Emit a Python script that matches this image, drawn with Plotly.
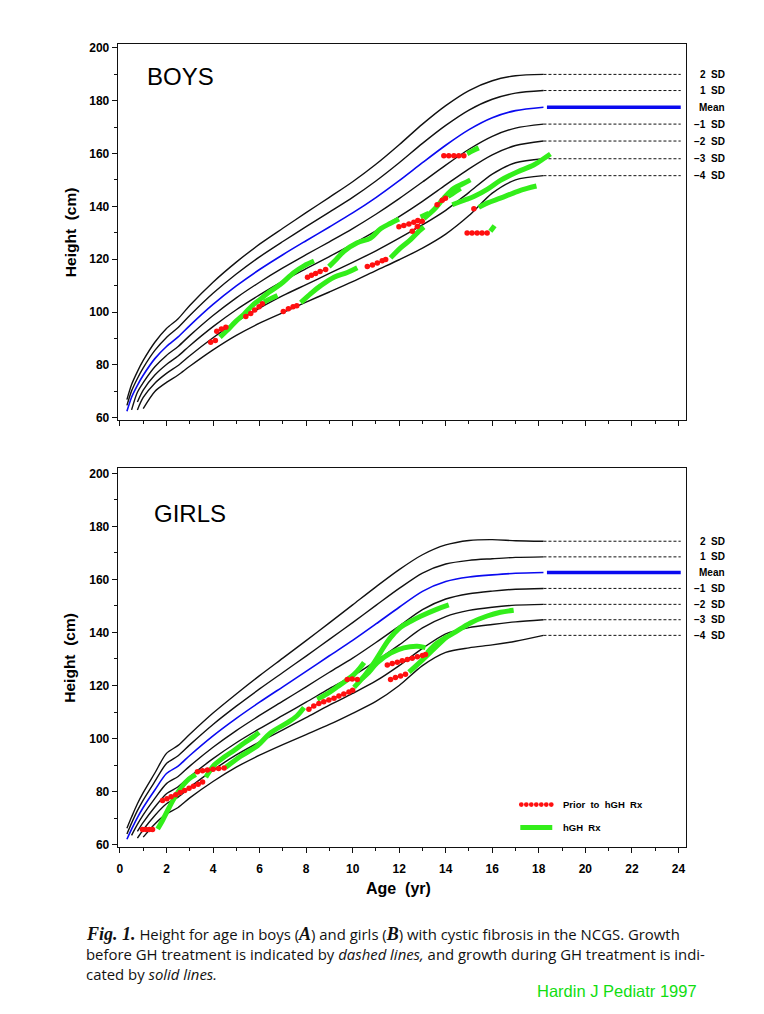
import plotly.graph_objects as go

# page body has an 8px margin: figure is sized to fit inside it
OFF = 8
W, H = 764 - 2 * OFF, 1014 - 2 * OFF

# ---------------- reference curves ----------------
AGES = [0.3, 0.5, 0.75, 1, 1.5, 2, 2.5, 3, 4, 5, 6, 7, 8, 9, 10, 11, 12, 13, 14, 15, 16, 17, 18.2]
CURVE_NAMES = ["2 SD", "1 SD", "Mean", "-1 SD", "-2 SD", "-3 SD", "-4 SD"]

BOYS_2SD = [66.9, 72.6, 77.5, 81.7, 88.6, 93.8, 97.5, 102.5, 111.3, 118.9, 125.7, 131.7, 137.6, 143.4, 149.3, 155.9, 163.3, 171.1, 178.1, 183.8, 187.5, 189.4, 189.9]
BOYS_1SD = [64.7, 70.2, 74.9, 78.9, 85.5, 90.4, 94.2, 98.7, 107.1, 114.4, 120.9, 126.7, 132.3, 137.8, 143.4, 149.6, 156.5, 163.8, 170.6, 176.4, 180.5, 182.8, 183.8]
BOYS_MEAN = [62.5, 67.8, 72.3, 76.1, 82.4, 87.0, 90.6, 94.9, 102.9, 109.9, 116.1, 121.7, 127.0, 132.2, 137.5, 143.3, 149.7, 156.5, 163.1, 169.0, 173.5, 176.2, 177.5]
BOYS_M1SD = [None, 63.0, 69.7, 73.3, 79.3, 83.6, 87.0, 91.1, 98.7, 105.4, 111.3, 116.7, 121.7, 126.6, 131.6, 137.0, 142.9, 149.2, 155.6, 161.6, 166.5, 169.6, 171.1]
BOYS_M2SD = [None, None, 66.0, 70.5, 76.2, 80.2, 83.4, 87.3, 94.5, 100.9, 106.5, 111.7, 116.4, 121.0, 125.7, 130.7, 136.1, 141.9, 148.1, 154.2, 159.5, 163.0, 164.7]
BOYS_M3SD = [None, None, 63.0, 67.7, 73.1, 76.8, 79.8, 83.5, 90.3, 96.4, 101.5, 106.2, 110.4, 114.6, 118.8, 123.2, 128.0, 133.0, 138.5, 145.3, 152.2, 156.5, 158.0]
BOYS_M4SD = [None, None, None, 63.5, 70.0, 73.4, 76.2, 79.5, 85.7, 91.2, 95.8, 99.8, 103.8, 107.6, 111.5, 115.7, 119.8, 124.2, 129.5, 136.5, 145.0, 150.0, 151.6]

GIRLS_2SD = [66.2, 70.4, 75.4, 79.6, 87.0, 94.4, 97.4, 101.6, 109.6, 116.8, 123.7, 130.3, 136.9, 143.6, 150.4, 157.2, 163.7, 169.3, 173.0, 174.7, 175.0, 174.6, 174.4]
GIRLS_1SD = [64.0, 68.1, 72.8, 76.8, 83.8, 90.6, 93.5, 97.6, 105.3, 112.2, 118.7, 124.9, 131.1, 137.4, 143.7, 150.2, 156.6, 162.4, 165.8, 167.2, 167.8, 168.3, 168.5]
GIRLS_MEAN = [62.0, 65.8, 70.2, 74.0, 80.6, 86.8, 89.6, 93.6, 101.0, 107.6, 113.7, 119.5, 125.3, 131.2, 137.0, 143.2, 149.5, 155.5, 159.2, 160.9, 161.7, 162.3, 162.6]
GIRLS_M1SD = [None, 63.5, 67.6, 71.2, 77.4, 83.0, 85.7, 89.6, 96.7, 103.0, 108.7, 114.1, 119.5, 125.0, 130.3, 136.2, 142.4, 148.6, 152.6, 154.6, 155.6, 156.3, 156.6]
GIRLS_M2SD = [None, None, 65.0, 68.4, 74.2, 79.2, 81.8, 85.6, 92.4, 98.4, 103.7, 108.7, 113.7, 118.8, 123.6, 129.2, 135.3, 141.7, 146.0, 148.3, 149.5, 150.3, 150.6]
GIRLS_M3SD = [None, None, 62.4, 65.6, 71.0, 75.4, 77.9, 81.6, 88.1, 93.8, 98.7, 103.3, 107.9, 112.6, 117.0, 121.7, 127.5, 134.0, 139.5, 141.8, 143.0, 144.0, 144.8]
GIRLS_M4SD = [None, None, None, 62.8, 67.8, 71.6, 74.0, 77.6, 83.8, 89.2, 93.7, 97.7, 101.5, 105.3, 109.5, 114.0, 120.0, 127.5, 132.5, 134.2, 135.3, 136.7, 138.9]

# ---------------- patient growth records ----------------
BOYS_PRIOR_AGE = [[3.9, 4.1], [4.16, 4.36, 4.55], [5.41, 5.62, 5.79, 5.98, 6.12], [7.02, 7.24, 7.44, 7.6],
                  [8.06, 8.23, 8.41, 8.6, 8.84], [10.63, 10.85, 11.06, 11.27, 11.42],
                  [11.99, 12.2, 12.42, 12.63, 12.8], [12.56, 12.78, 12.99], [13.63, 13.85, 13.99],
                  [13.92, 14.13, 14.35, 14.56, 14.78], [14.92, 15.13, 15.35, 15.56, 15.78], [15.21]]
BOYS_PRIOR_CM = [[88.6, 89.3], [92.8, 93.6, 94.3], [98.3, 99.5, 100.8, 102.0, 103.2], [100.2, 101.3, 102.0, 102.4],
                 [113.2, 113.9, 114.6, 115.4, 116.1], [117.2, 117.8, 118.6, 119.4, 119.9],
                 [132.3, 132.8, 133.3, 134.0, 134.6], [130.6, 132.4, 134.4], [140.6, 142.3, 143.1],
                 [159.1, 159.1, 159.1, 159.1, 159.1], [129.9, 129.9, 129.9, 129.9, 129.9], [139.1]]
BOYS_RX_AGE = [[4.3, 4.6, 4.98, 5.34, 5.69, 6.05, 6.4, 6.9, 7.48, 7.91, 8.34], [6.19, 6.45, 6.77],
               [7.77, 8.2, 8.63, 9.2, 9.77, 10.2], [8.98, 9.3, 9.63, 10.2, 10.77, 11.2, 11.63, 11.99],
               [11.63, 12.06, 12.49, 12.85, 13.06], [12.92, 13.27], [13.06, 13.49, 13.92, 14.35, 14.78, 15.06],
               [14.1, 14.4, 14.64], [14.28, 14.8, 15.21, 15.8, 16.35, 17.07, 17.78, 18.2, 18.5],
               [15.42, 15.8, 16.35, 17.07, 17.5, 17.9], [14.92, 15.2, 15.42], [15.92, 16.1]]
BOYS_RX_CM = [[90.5, 93.0, 96.5, 99.3, 102.5, 105.0, 107.5, 110.5, 115.0, 117.5, 119.3], [103.8, 105.0, 106.3],
              [103.6, 107.0, 110.0, 113.2, 115.0, 116.8], [117.2, 120.0, 123.0, 126.2, 128.0, 131.5, 133.6, 135.2],
              [120.5, 124.3, 127.4, 130.6, 132.2], [136.0, 137.4], [135.4, 138.7, 143.1, 146.8, 148.7, 150.0],
              [143.7, 145.5, 146.8], [140.6, 142.3, 143.7, 146.5, 149.8, 153.0, 155.6, 158.0, 159.8],
              [139.6, 141.3, 143.1, 145.6, 146.8, 147.7], [159.9, 161.2, 162.1], [130.6, 132.7]]

GIRLS_PRIOR_AGE = [[0.97, 1.12, 1.26, 1.4], [1.83, 2.02, 2.2, 2.4, 2.59, 2.78, 2.97, 3.16, 3.36, 3.55],
                   [3.33, 3.55, 3.76, 4.0, 4.24, 4.48], [8.12, 8.33, 8.55, 8.76, 8.98, 9.2, 9.41, 9.62, 9.84, 10.0],
                   [9.77, 9.98, 10.2], [11.49, 11.7, 11.92, 12.13, 12.35, 12.56, 12.78, 13.0, 13.13],
                   [11.63, 11.84, 12.06, 12.27]]
GIRLS_PRIOR_CM = [[65.7, 65.7, 65.7, 65.7], [76.6, 77.3, 78.0, 78.8, 79.6, 80.4, 81.2, 82.0, 82.8, 83.6],
                  [87.5, 87.8, 88.1, 88.4, 88.7, 88.9], [111.0, 112.3, 113.2, 113.9, 114.5, 115.2, 116.0, 116.8, 117.5, 118.2],
                  [122.3, 122.4, 122.3], [127.7, 128.3, 128.8, 129.3, 129.8, 130.3, 130.8, 131.3, 131.7],
                  [122.3, 123.0, 123.6, 124.2]]
GIRLS_RX_AGE = [[1.62, 1.83, 2.12, 2.4, 2.69, 2.97, 3.26], [3.69, 4.05, 4.48, 4.9, 5.34, 5.76, 5.98],
                [4.55, 5.19, 5.91, 6.48, 7.2, 7.6, 7.91],
                [10.06, 10.49, 10.92, 11.2, 11.49, 11.77, 12.06, 12.5, 12.92, 13.63, 14.13],
                [8.48, 8.9, 9.34, 9.77, 10.06, 10.3, 10.49], [10.4, 10.7, 11.06, 11.63, 12.2, 12.78, 13.13],
                [13.2, 13.63, 14.35, 15.06, 15.78, 16.35, 16.92], [12.42, 12.92, 13.49, 14.06]]
GIRLS_RX_CM = [[65.9, 69.1, 74.1, 78.5, 82.2, 84.8, 86.4], [85.4, 90.0, 93.0, 95.5, 98.3, 100.8, 102.3],
               [89.2, 93.3, 97.3, 102.2, 106.0, 108.5, 111.7],
               [119.3, 123.5, 128.6, 132.5, 136.5, 139.5, 142.0, 144.2, 146.1, 148.8, 150.4],
               [114.8, 116.8, 119.5, 122.2, 124.2, 126.5, 128.7], [122.6, 125.0, 128.6, 132.2, 134.2, 134.8, 134.3],
               [132.3, 136.0, 139.8, 143.6, 146.2, 147.6, 148.4], [125.0, 129.0, 133.8, 138.5]]

X_TICKS = list(range(0, 25, 2))
Y_TICKS = list(range(60, 201, 20))
EXT_AGE = [18.2, 24.1]

BLACK = "#111111"
BLUE = "#0a0af0"
RED = "#ff1010"
GREEN = "#33ee1a"
FONT = "Liberation Sans"

fig = go.Figure()


def add_panel(curves, prior_a, prior_c, rx_a, rx_c, xa, ya):
    for name, vals in zip(CURVE_NAMES, curves):
        is_mean = name == "Mean"
        xs = [a for a, v in zip(AGES, vals) if v is not None]
        ys = [v for v in vals if v is not None]
        fig.add_trace(go.Scatter(x=xs, y=ys, mode="lines", xaxis=xa, yaxis=ya,
                                 line=dict(color=BLUE if is_mean else BLACK, width=1.6 if is_mean else 1.4,
                                           shape="spline", smoothing=0.8),
                                 showlegend=False, hoverinfo="skip"))
        if is_mean:
            fig.add_trace(go.Scatter(x=[EXT_AGE[0] + 0.15, EXT_AGE[1]], y=[vals[-1], vals[-1]], mode="lines",
                                     xaxis=xa, yaxis=ya, line=dict(color=BLUE, width=3.6),
                                     showlegend=False, hoverinfo="skip"))
        else:
            fig.add_trace(go.Scatter(x=EXT_AGE, y=[vals[-1], vals[-1]], mode="lines", xaxis=xa, yaxis=ya,
                                     line=dict(color=BLACK, width=1, dash="3px,2px"),
                                     showlegend=False, hoverinfo="skip"))
    for a, c in zip(rx_a, rx_c):
        fig.add_trace(go.Scatter(x=a, y=c, mode="lines", xaxis=xa, yaxis=ya,
                                 line=dict(color=GREEN, width=5, shape="spline"),
                                 showlegend=False, hoverinfo="skip"))
    for a, c in zip(prior_a, prior_c):
        fig.add_trace(go.Scatter(x=a, y=c, mode="lines+markers", xaxis=xa, yaxis=ya,
                                 line=dict(color=RED, width=1.5),
                                 marker=dict(color=RED, size=5.5),
                                 showlegend=False, hoverinfo="skip"))


add_panel([BOYS_2SD, BOYS_1SD, BOYS_MEAN, BOYS_M1SD, BOYS_M2SD, BOYS_M3SD, BOYS_M4SD],
          BOYS_PRIOR_AGE, BOYS_PRIOR_CM, BOYS_RX_AGE, BOYS_RX_CM, "x", "y")
add_panel([GIRLS_2SD, GIRLS_1SD, GIRLS_MEAN, GIRLS_M1SD, GIRLS_M2SD, GIRLS_M3SD, GIRLS_M4SD],
          GIRLS_PRIOR_AGE, GIRLS_PRIOR_CM, GIRLS_RX_AGE, GIRLS_RX_CM, "x2", "y2")


def px(x):
    return (x - OFF) / W


def py(y):
    return 1 - (y - OFF) / H


tickfont = dict(family=FONT, size=12, color="black", weight="bold")
axis_common = dict(showline=True, mirror=True, linecolor=BLACK, linewidth=1.4, showgrid=False,
                   zeroline=False, ticks="outside", ticklen=5, tickwidth=1.2, tickcolor=BLACK,
                   tickfont=tickfont)
xdom = [px(117), px(686)]
fig.update_layout(
    width=W, height=H, margin=dict(l=0, r=0, t=0, b=0),
    paper_bgcolor="white", plot_bgcolor="white", showlegend=False,
    xaxis=dict(domain=xdom, anchor="y", range=[-0.09, 24.33], tickvals=X_TICKS, showticklabels=False,
               minor=dict(dtick=1, tick0=0, ticks="outside", ticklen=3, tickcolor=BLACK), **axis_common),
    yaxis=dict(domain=[py(420), py(41)], anchor="x", range=[59.3, 201.5], tickvals=Y_TICKS,
               minor=dict(dtick=10, tick0=0, ticks="outside", ticklen=3, tickcolor=BLACK), **axis_common),
    xaxis2=dict(domain=xdom, anchor="y2", range=[-0.09, 24.33], tickvals=X_TICKS, ticklabelstandoff=5,
                minor=dict(dtick=1, tick0=0, ticks="outside", ticklen=3, tickcolor=BLACK), **axis_common),
    yaxis2=dict(domain=[py(851), py(469)], anchor="x2", range=[59.0, 201.9], tickvals=Y_TICKS,
                minor=dict(dtick=10, tick0=0, ticks="outside", ticklen=3, tickcolor=BLACK), **axis_common),
)

ann = []
SD_LABELS = ["2\u00a0 SD", "1\u00a0 SD", "Mean", "\u22121\u00a0 SD", "\u22122\u00a0 SD", "\u22123\u00a0 SD", "\u22124\u00a0 SD"]
for curves, yref in (([BOYS_2SD, BOYS_1SD, BOYS_MEAN, BOYS_M1SD, BOYS_M2SD, BOYS_M3SD, BOYS_M4SD], "y"),
                     ([GIRLS_2SD, GIRLS_1SD, GIRLS_MEAN, GIRLS_M1SD, GIRLS_M2SD, GIRLS_M3SD, GIRLS_M4SD], "y2")):
    for lab, vals in zip(SD_LABELS, curves):
        ann.append(dict(text=lab, x=px(727), xref="paper", y=vals[-1], yref=yref, xanchor="right",
                        yanchor="middle", showarrow=False,
                        font=dict(family=FONT, size=10, color="black", weight="bold")))

ann.append(dict(text="BOYS", x=px(144), y=py(74), xref="paper", yref="paper", xanchor="left", yanchor="middle",
                showarrow=False, font=dict(family=FONT, size=24, color="black")))
ann.append(dict(text="GIRLS", x=px(151), y=py(515), xref="paper", yref="paper", xanchor="left", yanchor="middle",
                showarrow=False, font=dict(family=FONT, size=24, color="black")))
for yc in (231, 660):
    ann.append(dict(text="Height\u00a0 (cm)", x=px(69), y=py(yc), xref="paper", yref="paper", textangle=-90,
                    xanchor="center", yanchor="middle", showarrow=False,
                    font=dict(family=FONT, size=15.5, color="black", weight="bold")))
ann.append(dict(text="Age\u00a0 (yr)", x=px(398), y=py(893), xref="paper", yref="paper", xanchor="center",
                yanchor="middle", showarrow=False, font=dict(family=FONT, size=16, color="black", weight="bold")))

# legend (inside girls panel)
ann.append(dict(text="Prior\u00a0 to\u00a0 hGH\u00a0 Rx", x=px(561), y=py(808), xref="paper", yref="paper",
                xanchor="left", yanchor="middle", showarrow=False,
                font=dict(family=FONT, size=9.5, color="black", weight="bold")))
ann.append(dict(text="hGH\u00a0 Rx", x=px(561), y=py(831), xref="paper", yref="paper", xanchor="left",
                yanchor="middle", showarrow=False, font=dict(family=FONT, size=9.5, color="black", weight="bold")))
shapes = []
for i in range(7):
    cx = 521 + i * 5
    shapes.append(dict(type="circle", xref="paper", yref="paper", x0=px(cx - 2.4), x1=px(cx + 2.4),
                       y0=py(808 + 2.4), y1=py(808 - 2.4), fillcolor=RED, line=dict(width=0)))
shapes.append(dict(type="line", xref="paper", yref="paper", x0=px(520), x1=px(552), y0=py(831), y1=py(831),
                   line=dict(color=GREEN, width=5)))

# caption
CAP = "Open Sans"
serif = "font-family:'Liberation Serif';font-size:18px"
cap_lines = [
    f"<span style=\"{serif}\"><b><i>Fig. 1.</i></b></span> Height for age in boys (<span style=\"{serif}\"><b><i>A</i></b></span>) and girls (<span style=\"{serif}\"><b><i>B</i></b></span>) with cystic fibrosis in the NCGS. Growth",
    "before GH treatment is indicated by <i>dashed lines,</i> and growth during GH treatment is indi-",
    "cated by <i>solid lines.</i>",
]
for i, t in enumerate(cap_lines):
    ann.append(dict(text=t, x=px(83), y=py(938 + i * 20.5), xref="paper", yref="paper", xanchor="left",
                    yanchor="middle", showarrow=False, font=dict(family=CAP, size=14.9, color="#111111")))
ann.append(dict(text="Hardin J Pediatr 1997", x=px(699), y=py(996), xref="paper", yref="paper", xanchor="right",
                yanchor="middle", showarrow=False, font=dict(family=FONT, size=16.5, color="#11dd11")))

fig.update_layout(annotations=ann, shapes=shapes)
fig.write_html("out.html")
